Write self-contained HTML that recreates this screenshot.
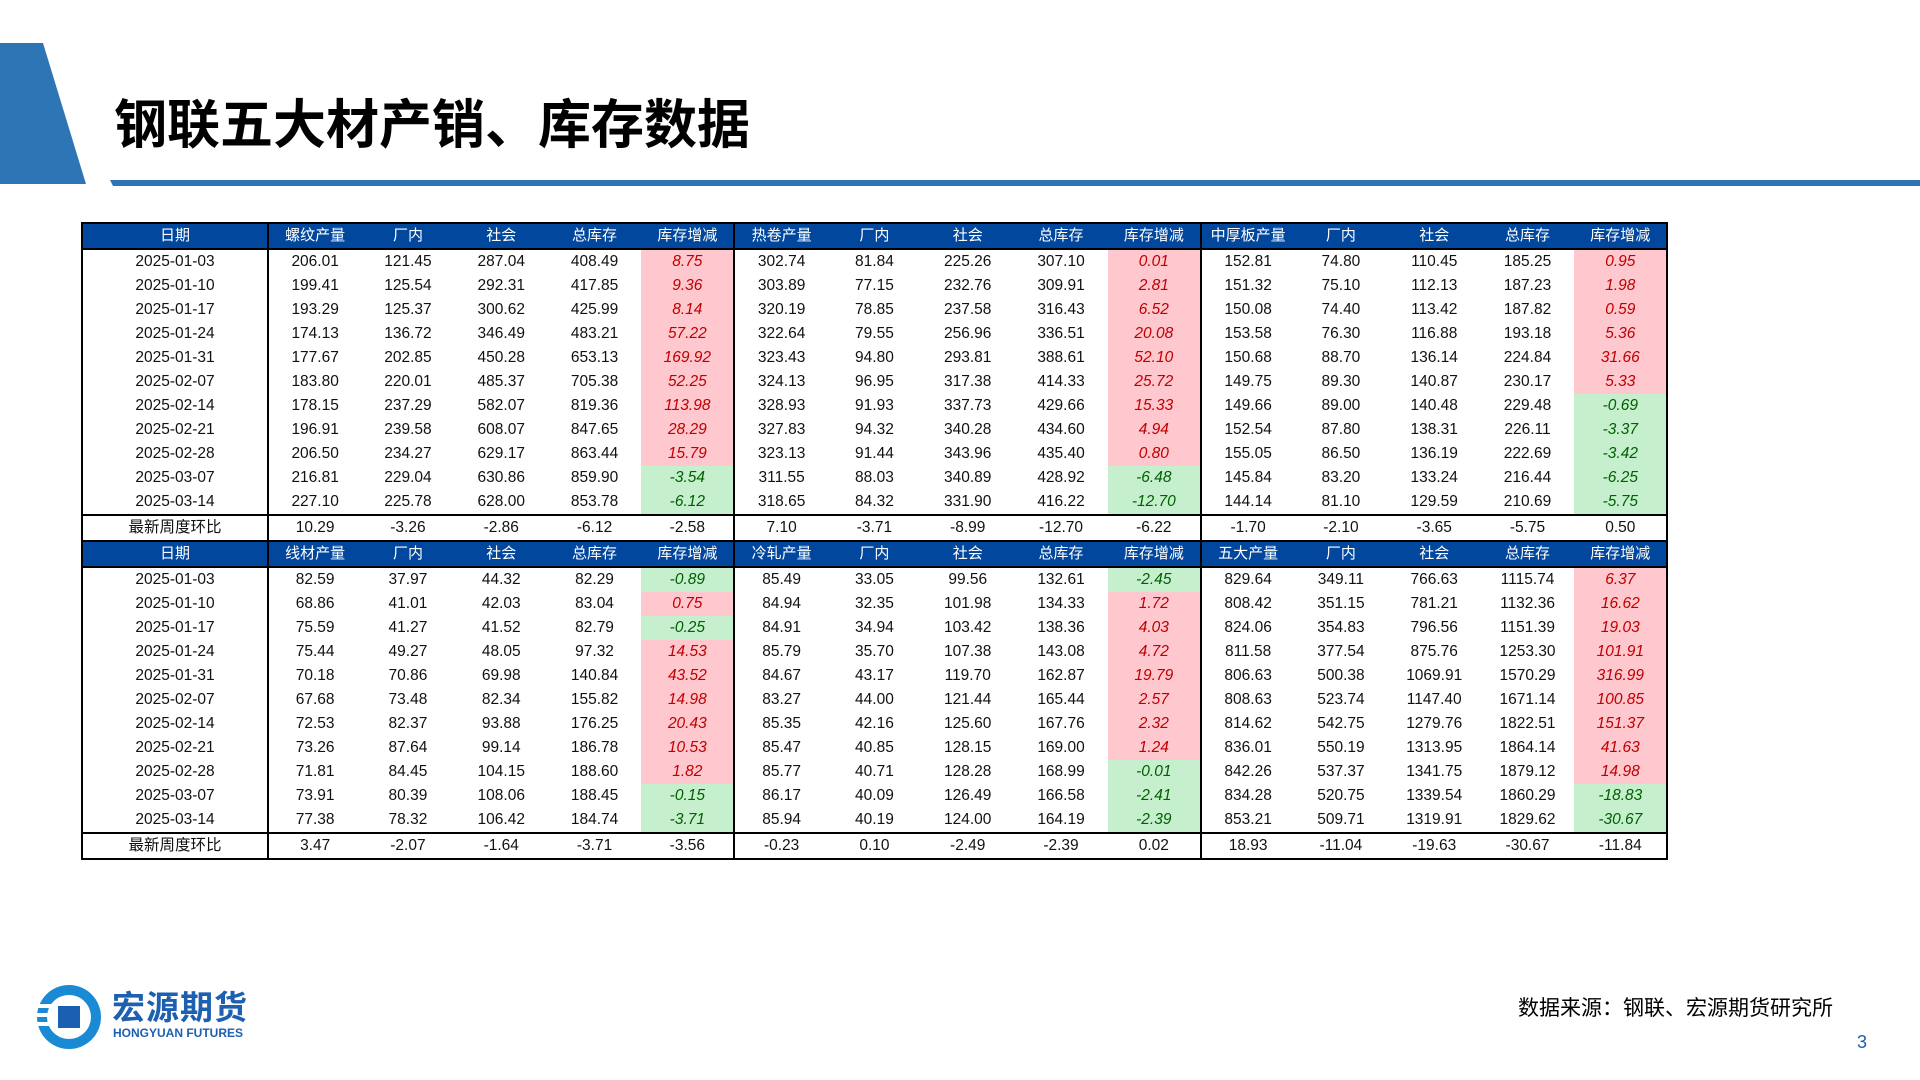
<!DOCTYPE html>
<html><head><meta charset="utf-8">
<style>
html,body{margin:0;padding:0;background:#fff;}
body{width:1920px;height:1080px;position:relative;overflow:hidden;font-family:"Liberation Sans Narrow","Liberation Sans","Noto Sans CJK SC",sans-serif;}
#trap{position:absolute;left:0;top:43px;width:86px;height:141px;background:#2e75b6;clip-path:polygon(0 0,43px 0,86px 141px,0 141px);}
#bar{position:absolute;left:110px;top:180px;width:1810px;height:6px;background:#2e75b6;clip-path:polygon(0 0,100% 0,100% 100%,3px 100%);}
#title{position:absolute;left:114px;top:93px;font-size:53px;font-weight:bold;font-family:"Liberation Sans","Noto Sans CJK SC",sans-serif;color:#000;letter-spacing:0px;line-height:66px;}
table{position:absolute;left:81px;top:222px;width:1586px;border-collapse:collapse;table-layout:fixed;border:2px solid #000;}
tr{height:24px;}
td{height:24px;padding:0;text-align:center;font-size:15.5px;color:#111;white-space:nowrap;line-height:20px;}
td.h{background:#00479d;color:#fff;font-family:"Liberation Sans","Noto Sans CJK SC",sans-serif;font-size:15px;}
td.sep{border-right:2px solid #000;}
tr.hd td{border-bottom:2px solid #000;}
tr.last td{border-top:2px solid #000;border-bottom:2px solid #000;}
td.pos{background:#ffc7ce;color:#c00000;font-style:italic;}
td.neg{background:#c6efce;color:#006100;font-style:italic;}
#logo{position:absolute;left:36px;top:984px;width:66px;height:66px;}
#brand{position:absolute;left:112px;top:988px;font-size:33px;font-weight:bold;color:#1d5fb0;font-family:"Liberation Sans","Noto Sans CJK SC",sans-serif;line-height:40px;letter-spacing:1px;}
#brand-en{position:absolute;left:113px;top:1026px;font-size:12px;font-weight:bold;color:#1d5fb0;font-family:"Liberation Sans",sans-serif;}
#source{position:absolute;left:1518px;top:992px;font-size:21px;color:#000;font-family:"Liberation Sans","Noto Sans CJK SC",sans-serif;}
#page{position:absolute;left:1857px;top:1032px;font-size:18px;color:#1d5fb0;font-family:"Liberation Sans",sans-serif;}
</style></head><body>
<div id="trap"></div>
<div id="bar"></div>
<div id="title">钢联五大材产销、库存数据</div>
<table id="tbl"><tbody id="tb"></tbody></table>
<svg id="logo" viewBox="0 0 66 66">
<circle cx="33" cy="33" r="32" fill="#1a8ad4"/>
<circle cx="33" cy="33" r="22" fill="#fff"/>
<rect x="22" y="22" width="22" height="22" fill="#1a5fb0"/>
<rect x="0" y="20" width="22" height="4" fill="#fff"/>
<rect x="0" y="29" width="22" height="4" fill="#fff"/>
<rect x="0" y="38" width="22" height="4" fill="#fff"/>
</svg>
<div id="brand">宏源期货</div>
<div id="brand-en">HONGYUAN FUTURES</div>
<div id="source">数据来源：钢联、宏源期货研究所</div>
<div id="page">3</div>
<script>
const dates=["2025-01-03","2025-01-10","2025-01-17","2025-01-24","2025-01-31","2025-02-07","2025-02-14","2025-02-21","2025-02-28","2025-03-07","2025-03-14"];
const headers1=["螺纹产量","厂内","社会","总库存","库存增减","热卷产量","厂内","社会","总库存","库存增减","中厚板产量","厂内","社会","总库存","库存增减"];
const headers2=["线材产量","厂内","社会","总库存","库存增减","冷轧产量","厂内","社会","总库存","库存增减","五大产量","厂内","社会","总库存","库存增减"];
const rebar=[["206.01","121.45","287.04","408.49","8.75"],["199.41","125.54","292.31","417.85","9.36"],["193.29","125.37","300.62","425.99","8.14"],["174.13","136.72","346.49","483.21","57.22"],["177.67","202.85","450.28","653.13","169.92"],["183.80","220.01","485.37","705.38","52.25"],["178.15","237.29","582.07","819.36","113.98"],["196.91","239.58","608.07","847.65","28.29"],["206.50","234.27","629.17","863.44","15.79"],["216.81","229.04","630.86","859.90","-3.54"],["227.10","225.78","628.00","853.78","-6.12"]];
const hrc=[["302.74","81.84","225.26","307.10","0.01"],["303.89","77.15","232.76","309.91","2.81"],["320.19","78.85","237.58","316.43","6.52"],["322.64","79.55","256.96","336.51","20.08"],["323.43","94.80","293.81","388.61","52.10"],["324.13","96.95","317.38","414.33","25.72"],["328.93","91.93","337.73","429.66","15.33"],["327.83","94.32","340.28","434.60","4.94"],["323.13","91.44","343.96","435.40","0.80"],["311.55","88.03","340.89","428.92","-6.48"],["318.65","84.32","331.90","416.22","-12.70"]];
const plate=[["152.81","74.80","110.45","185.25","0.95"],["151.32","75.10","112.13","187.23","1.98"],["150.08","74.40","113.42","187.82","0.59"],["153.58","76.30","116.88","193.18","5.36"],["150.68","88.70","136.14","224.84","31.66"],["149.75","89.30","140.87","230.17","5.33"],["149.66","89.00","140.48","229.48","-0.69"],["152.54","87.80","138.31","226.11","-3.37"],["155.05","86.50","136.19","222.69","-3.42"],["145.84","83.20","133.24","216.44","-6.25"],["144.14","81.10","129.59","210.69","-5.75"]];
const latest1=["10.29","-3.26","-2.86","-6.12","-2.58","7.10","-3.71","-8.99","-12.70","-6.22","-1.70","-2.10","-3.65","-5.75","0.50"];
const wire=[["82.59","37.97","44.32","82.29","-0.89"],["68.86","41.01","42.03","83.04","0.75"],["75.59","41.27","41.52","82.79","-0.25"],["75.44","49.27","48.05","97.32","14.53"],["70.18","70.86","69.98","140.84","43.52"],["67.68","73.48","82.34","155.82","14.98"],["72.53","82.37","93.88","176.25","20.43"],["73.26","87.64","99.14","186.78","10.53"],["71.81","84.45","104.15","188.60","1.82"],["73.91","80.39","108.06","188.45","-0.15"],["77.38","78.32","106.42","184.74","-3.71"]];
const cold=[["85.49","33.05","99.56","132.61","-2.45"],["84.94","32.35","101.98","134.33","1.72"],["84.91","34.94","103.42","138.36","4.03"],["85.79","35.70","107.38","143.08","4.72"],["84.67","43.17","119.70","162.87","19.79"],["83.27","44.00","121.44","165.44","2.57"],["85.35","42.16","125.60","167.76","2.32"],["85.47","40.85","128.15","169.00","1.24"],["85.77","40.71","128.28","168.99","-0.01"],["86.17","40.09","126.49","166.58","-2.41"],["85.94","40.19","124.00","164.19","-2.39"]];
const five=[["829.64","349.11","766.63","1115.74","6.37"],["808.42","351.15","781.21","1132.36","16.62"],["824.06","354.83","796.56","1151.39","19.03"],["811.58","377.54","875.76","1253.30","101.91"],["806.63","500.38","1069.91","1570.29","316.99"],["808.63","523.74","1147.40","1671.14","100.85"],["814.62","542.75","1279.76","1822.51","151.37"],["836.01","550.19","1313.95","1864.14","41.63"],["842.26","537.37","1341.75","1879.12","14.98"],["834.28","520.75","1339.54","1860.29","-18.83"],["853.21","509.71","1319.91","1829.62","-30.67"]];
const latest2=["3.47","-2.07","-1.64","-3.71","-3.56","-0.23","0.10","-2.49","-2.39","0.02","18.93","-11.04","-19.63","-30.67","-11.84"];

const tb=document.getElementById('tb');
const cg=document.createElement('colgroup');
for(let i=0;i<16;i++){const c=document.createElement('col');c.style.width=(i===0?186:93.3)+'px';cg.appendChild(c);}
document.getElementById('tbl').insertBefore(cg,tb);
function cell(tr,txt,cls){const td=document.createElement('td');td.textContent=txt;if(cls)td.className=cls;tr.appendChild(td);return td;}
function sepCls(i){return (i===0||i===5||i===10)?'sep':'';}
function block(headers,groups,latest,tag){
  const hr=document.createElement('tr');hr.className='hd';
  
  
  cell(hr,'日期','h sep');
  headers.forEach((h,i)=>cell(hr,h,'h '+sepCls(i+1)));
  tb.appendChild(hr);
  dates.forEach((d,r)=>{
    const tr=document.createElement('tr');
    
    
    cell(tr,d,'sep');
    const vals=groups[0][r].concat(groups[1][r],groups[2][r]);
    vals.forEach((v,i)=>{
      let cls=sepCls(i+1);
      if(i%5===4){cls+=parseFloat(v)<0?' neg':' pos';}
      cell(tr,v,cls);
    });
    tb.appendChild(tr);
  });
  const lr=document.createElement('tr');lr.className='last';
  
  
  cell(lr,'最新周度环比','sep');
  latest.forEach((v,i)=>cell(lr,v,sepCls(i+1)));
  tb.appendChild(lr);
}
block(headers1,[rebar,hrc,plate],latest1,'upper');
block(headers2,[wire,cold,five],latest2,'lower');
</script>
</body></html>
